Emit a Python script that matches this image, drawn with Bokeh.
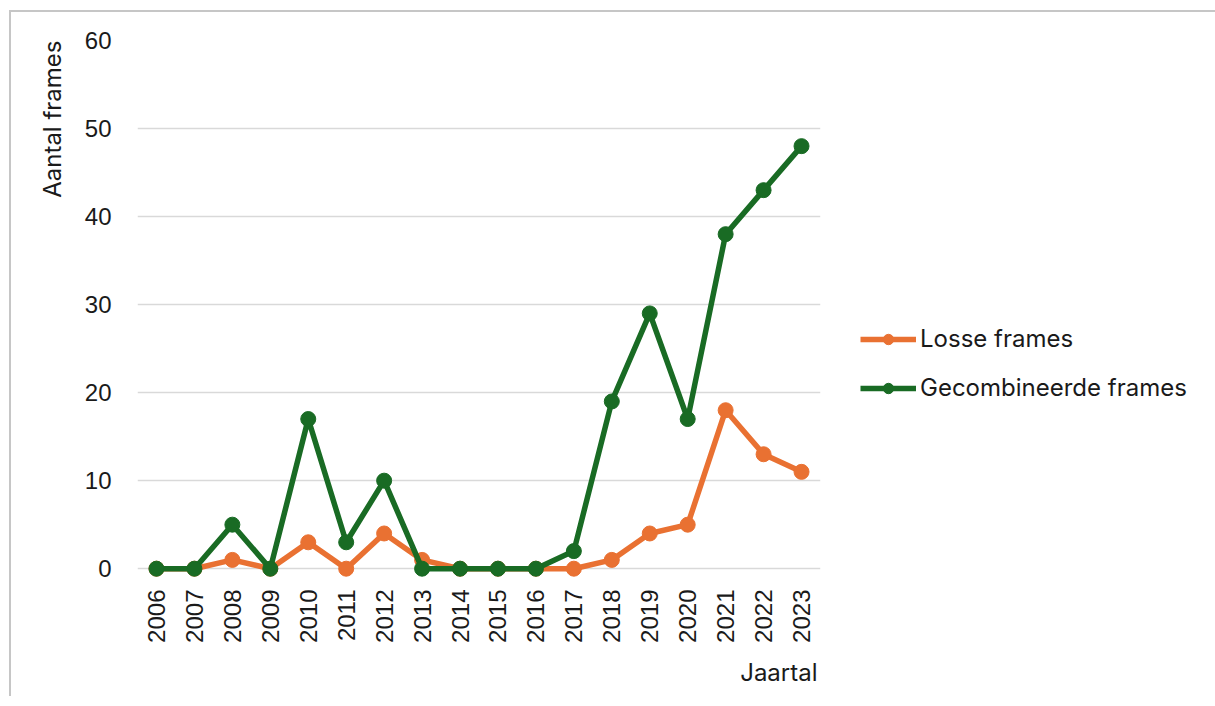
import math
from bokeh.plotting import figure
from bokeh.models import FactorRange, Range1d, Legend, LegendItem, Title, FixedTicker
from bokeh.embed import file_html
from bokeh.resources import INLINE

years = [str(y) for y in range(2006, 2024)]
losse = [0, 0, 1, 0, 3, 0, 4, 1, 0, 0, 0, 0, 1, 4, 5, 18, 13, 11]
gecombineerd = [0, 0, 5, 0, 17, 3, 10, 0, 0, 0, 0, 2, 19, 29, 17, 38, 43, 48]
y_ticks = [0, 10, 20, 30, 40, 50, 60]

ORANGE = "#E97132"
GREEN = "#196B24"
TXT = "#1a1a1a"
TICK_FONT = "Liberation Sans"
LAB_FONT = "Inter"

p = figure(
    x_range=FactorRange(factors=years),
    y_range=Range1d(-1, 60),
    frame_width=683, frame_height=537,
    min_border_left=126, min_border_top=28, min_border_bottom=116, min_border_right=375,
    output_backend="svg", toolbar_location=None,
    styles={"border-left": "2px solid #c6c6c6", "border-top": "2px solid #c6c6c6",
            "margin-left": "9px", "margin-top": "10px"},
)
p.outline_line_color = None
p.background_fill_color = "white"
p.border_fill_color = "white"

p.xgrid.visible = False
p.ygrid.grid_line_color = "#d9d9d9"
p.ygrid.grid_line_width = 1.5

p.yaxis.ticker = FixedTicker(ticks=y_ticks)
for ax in (p.xaxis, p.yaxis):
    ax.axis_line_color = None
    ax.major_tick_line_color = None
    ax.minor_tick_line_color = None
    ax.major_label_text_font = TICK_FONT
    ax.major_label_text_font_size = "24px"
    ax.major_label_text_color = TXT
p.yaxis.major_label_standoff = 20
p.xaxis.major_label_standoff = 6
p.xaxis.major_label_orientation = math.pi / 2

r1l = p.line(years, losse, line_color=ORANGE, line_width=5.5)
r1s = p.scatter(years, losse, size=15, fill_color=ORANGE, line_color=ORANGE)
r2l = p.line(years, gecombineerd, line_color=GREEN, line_width=5.5)
r2s = p.scatter(years, gecombineerd, size=15, fill_color=GREEN, line_color=GREEN)

legend = Legend(
    items=[LegendItem(label="Losse frames", renderers=[r1l, r1s]),
           LegendItem(label="Gecombineerde frames", renderers=[r2l, r2s])],
    location=(40, 175), orientation="vertical",
    glyph_width=56, glyph_height=26, label_height=26, spacing=20,
    label_standoff=4, padding=0, margin=0, border_line_color=None,
    background_fill_alpha=0,
    label_text_font=LAB_FONT, label_text_font_size="24px", label_text_color=TXT,
)
p.add_layout(legend, "right")

p.add_layout(Title(text="Jaartal", align="right", text_font=LAB_FONT, text_font_size="24px",
                   text_font_style="normal", text_color=TXT, standoff=20, offset=3), "below")
p.add_layout(Title(text="Aantal frames", align="right", text_font=LAB_FONT, text_font_size="24px",
                   text_font_style="normal", text_color=TXT, standoff=29), "left")

open("out.html", "w").write(file_html(p, INLINE))
